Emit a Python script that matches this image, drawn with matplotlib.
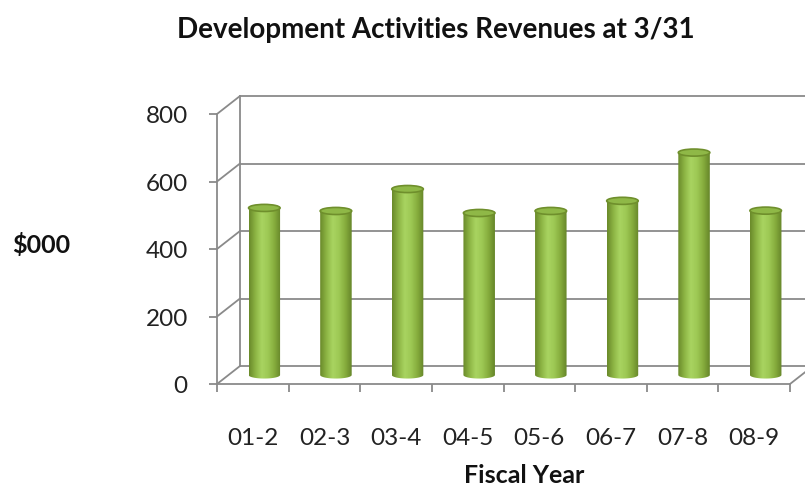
import numpy as np
import matplotlib.pyplot as plt
import matplotlib.transforms as mtransforms
from matplotlib.patches import Ellipse, Polygon, ConnectionPatch
from matplotlib.colors import LinearSegmentedColormap

years = ['01-2', '02-3', '03-4', '04-5', '05-6', '06-7', '07-8', '08-9']
revenues = [495, 486, 551, 480, 486, 516, 659, 487]
y_ticks = [0, 200, 400, 600, 800]

plt.rcParams['font.family'] = ['Lato', 'DejaVu Sans']

GRID = '#8a8a8a'
fig = plt.figure(figsize=(8.05, 4.89), dpi=100)
ax = fig.add_axes([217/805, 104/489, 573/805, 270/489])

# oblique depth: back wall and the plane the cylinders stand on
back = ax.transData + mtransforms.ScaledTranslation(0.23, 0.18, fig.dpi_scale_trans)
mid = ax.transData + mtransforms.ScaledTranslation(0.115, 0.09, fig.dpi_scale_trans)

n = len(years)
x0, x1 = -0.5, n - 0.5

# back wall gridlines + left wall edges
for t in y_ticks:
    ax.plot([x0, x1], [t, t], color=GRID, lw=1.3, transform=back,
            clip_on=False, zorder=0.5)
    ax.add_artist(ConnectionPatch((x0, t), (x0, t), ax.transData, back,
                                  color=GRID, lw=1.3, zorder=0.5))
ax.plot([x0, x0], [0, 800], color=GRID, lw=1.3, transform=back,
        clip_on=False, zorder=0.5)
ax.add_artist(ConnectionPatch((x1, 0), (x1, 0), ax.transData, back,
                              color=GRID, lw=1.3, zorder=0.5))

# cylinders
w = 0.44
eh = 21
body_cmap = LinearSegmentedColormap.from_list(
    'cyl', ['#6a8a2a', '#8db544', '#a9d461', '#9dc854', '#86ad3d', '#66862a'])
grad = np.linspace(0, 1, 64).reshape(1, -1)
theta = np.linspace(np.pi, 2 * np.pi, 40)
for i, v in enumerate(revenues):
    xs = np.concatenate([i + w / 2 * np.cos(theta), [i + w / 2, i - w / 2]])
    ys = np.concatenate([eh / 2 * np.sin(theta), [v, v]])
    outline = Polygon(np.column_stack([xs, ys]), closed=True, transform=mid,
                      fc='none', ec='none')
    ax.add_patch(outline)
    im = ax.imshow(grad, extent=[i - w / 2, i + w / 2, -eh / 2, v],
                   transform=mid, aspect='auto', cmap=body_cmap,
                   interpolation='bicubic', zorder=2)
    im.set_clip_path(outline)
    ax.add_patch(Ellipse((i, v), w, eh, transform=mid, fc='#8fb847',
                         ec='#6f8f2c', lw=1.2, zorder=3))

ax.set_xlim(x0, x1)
ax.set_ylim(0, 800)

for s in ['top', 'right']:
    ax.spines[s].set_visible(False)
for s in ['left', 'bottom']:
    ax.spines[s].set_color(GRID)
    ax.spines[s].set_linewidth(1.3)

ax.set_yticks(y_ticks)
ax.set_xticks(np.arange(x0, n), [''] * (n + 1))
ax.set_xticks(range(n), years, minor=True)
ax.tick_params(axis='both', which='major', direction='out', length=6,
               width=1.3, color=GRID, labelsize=17.5, labelcolor='#222222')
ax.tick_params(axis='y', pad=15)
ax.tick_params(axis='x', which='minor', length=0, pad=31, labelsize=17.5,
               labelcolor='#222222')

fig.text(436/805, 1 - 30/489, 'Development Activities Revenues at 3/31',
         ha='center', va='center', fontsize=20, fontweight='bold', color='#111111')
fig.text(41/805, 1 - 245/489, '$000', ha='center', va='center',
         fontsize=18, fontweight='bold', color='#111111')
fig.text(524/805, 1 - 476/489, 'Fiscal Year', ha='center', va='center',
         fontsize=18, fontweight='bold', color='#111111')

fig.savefig('out.png', dpi=100)
